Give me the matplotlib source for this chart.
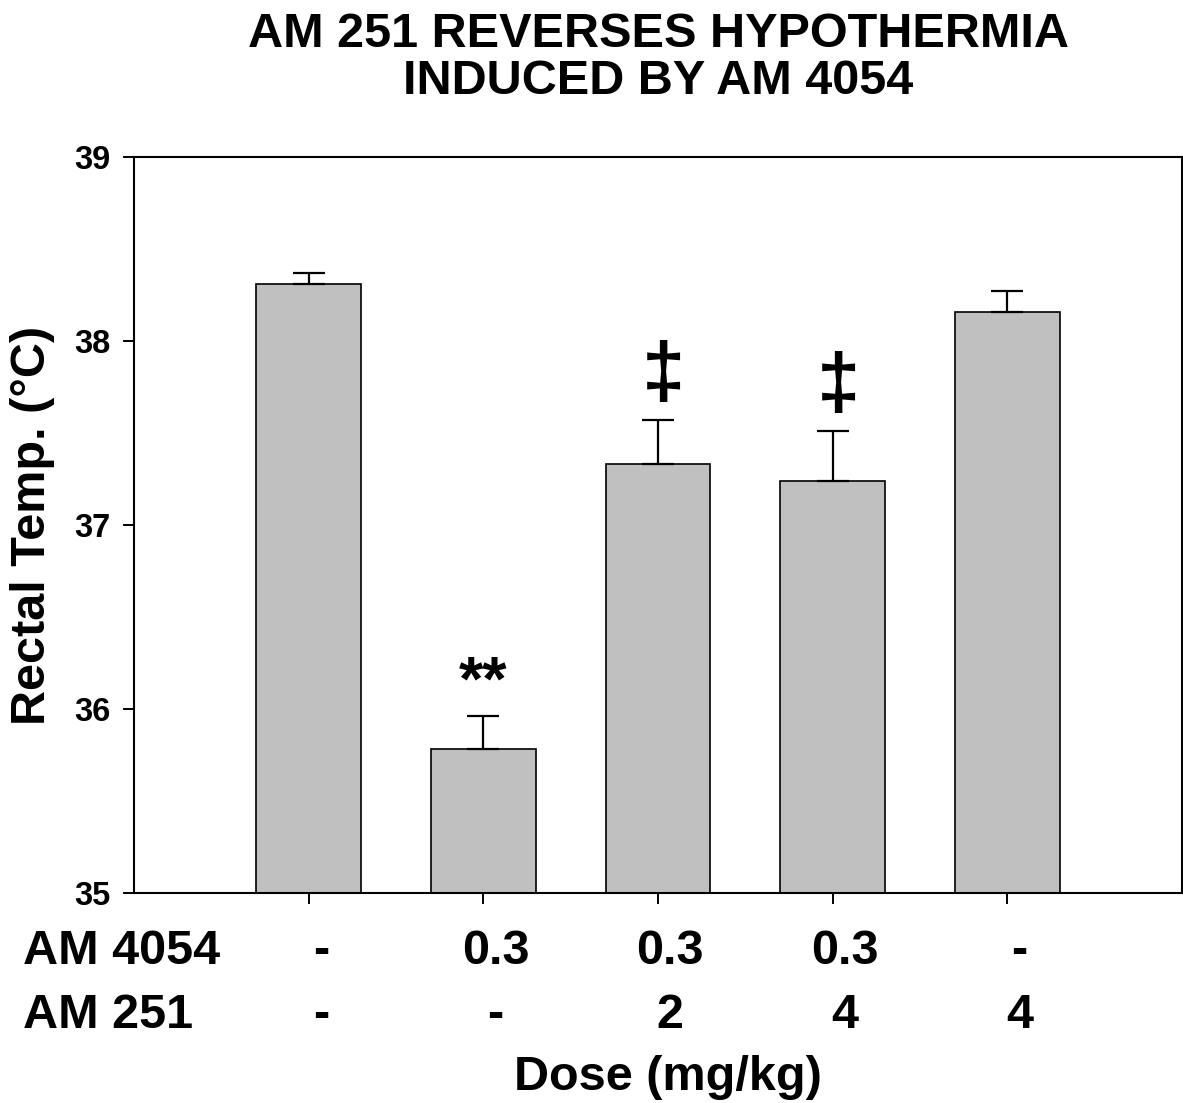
import matplotlib
matplotlib.use("Agg")
import matplotlib.pyplot as plt
import matplotlib.transforms as mtransforms

plt.rcParams['font.family'] = ['Liberation Sans', 'DejaVu Sans']
plt.rcParams['font.weight'] = 'bold'

# data
groups = [1, 2, 3, 4, 5]
temp_mean = [38.31, 35.78, 37.33, 37.24, 38.16]
temp_sem = [0.06, 0.18, 0.24, 0.27, 0.11]
am4054_dose = ['-', '0.3', '0.3', '0.3', '-']
am251_dose = ['-', '-', '2', '4', '4']
sig_marks = ['', '**', '\u2021', '\u2021', '']

fig = plt.figure(figsize=(11.83, 11.03), dpi=100)
ax = fig.add_axes([0.1133, 0.1904, 0.8859, 0.6673])

ax.bar(groups, temp_mean, width=0.6, bottom=0, color='#C0C0C0',
       edgecolor='black', linewidth=1.2, zorder=2)
ax.errorbar(groups, temp_mean, yerr=[[0] * len(temp_sem), temp_sem],
            fmt='none', ecolor='black', elinewidth=1.6, capsize=11.5,
            capthick=1.6, zorder=3)

ax.set_xlim(0, 6)
ax.set_ylim(35, 39)
ax.set_yticks([35, 36, 37, 38, 39])
ax.set_xticks(groups)
ax.set_xticklabels([])
ax.tick_params(axis='both', direction='out', length=8, width=1.4)
ax.tick_params(axis='y', labelsize=23.5, pad=9)
for lab in ax.get_yticklabels():
    lab.set_fontweight('bold')
for s in ax.spines.values():
    s.set_linewidth(1.5)

# significance markers
for x, m, s, mark in zip(groups, temp_mean, temp_sem, sig_marks):
    if mark == '**':
        ax.text(x, m + s + 0.02, mark, ha='center', va='bottom',
                fontsize=45, fontweight='bold')
    elif mark:
        ax.text(x + 0.03, m + s + 0.04, mark, ha='center', va='bottom',
                fontsize=56, fontweight='bold')

# dose rows under the axis
trans = mtransforms.blended_transform_factory(ax.transData, fig.transFigure)
for x, a, b in zip(groups, am4054_dose, am251_dose):
    ax.text(x + 0.07, 1 - 952 / 1103, a, transform=trans, ha='center',
            va='center', fontsize=35, fontweight='bold')
    ax.text(x + 0.07, 1 - 1015 / 1103, b, transform=trans, ha='center',
            va='center', fontsize=35, fontweight='bold')
fig.text(23 / 1183, 1 - 952 / 1103, 'AM 4054', ha='left', va='center',
         fontsize=35, fontweight='bold')
fig.text(23 / 1183, 1 - 1015 / 1103, 'AM 251', ha='left', va='center',
         fontsize=35, fontweight='bold')

fig.text(668 / 1183, 1 - 1077 / 1103, 'Dose (mg/kg)', ha='center',
         va='center', fontsize=35, fontweight='bold')
fig.text(33 / 1183, 0.5 * ((1 - 157 / 1103) + (1 - 893 / 1103)),
         'Rectal Temp. (\u00b0C)', rotation=90, ha='center', va='center',
         fontsize=35, fontweight='bold')
fig.text(658 / 1183, 1 - 58 / 1103,
         'AM 251 REVERSES HYPOTHERMIA\nINDUCED BY AM 4054',
         ha='center', va='center', fontsize=35, fontweight='bold',
         linespacing=1.05)

fig.savefig('out.png', dpi=100)
